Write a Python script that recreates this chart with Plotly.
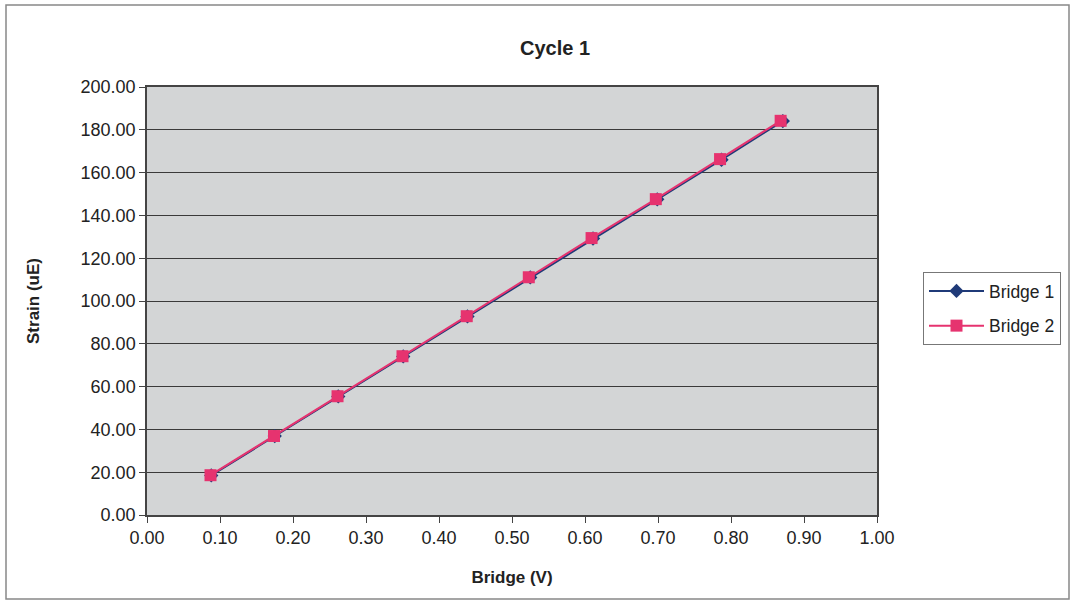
import plotly.graph_objects as go

# Data
bridge1_v = [0.088, 0.175, 0.262, 0.351, 0.439, 0.525, 0.611, 0.699, 0.787, 0.871]
bridge1_strain = [18.5, 36.9, 55.4, 74.1, 92.8, 111.0, 129.2, 147.5, 166.0, 184.1]
bridge2_v = [0.087, 0.174, 0.261, 0.350, 0.438, 0.523, 0.609, 0.697, 0.785, 0.868]
bridge2_strain = [18.6, 36.9, 55.5, 74.2, 92.9, 111.1, 129.4, 147.6, 166.3, 184.2]

x_ticks = [0.0, 0.1, 0.2, 0.3, 0.4, 0.5, 0.6, 0.7, 0.8, 0.9, 1.0]
y_ticks = [0, 20, 40, 60, 80, 100, 120, 140, 160, 180, 200]

FONT = "Liberation Sans, Arial, sans-serif"
NAVY = "#1f3a78"
PINK = "#e6336f"

fig = go.Figure()
fig.add_trace(go.Scatter(
    x=bridge1_v, y=bridge1_strain, mode="lines+markers", name="Bridge 1",
    legendgroup="b1",
    line=dict(color=NAVY, width=2),
    marker=dict(symbol="diamond", size=11, color=NAVY),
))
fig.add_trace(go.Scatter(
    x=bridge2_v, y=bridge2_strain, mode="lines+markers", name="Bridge 2",
    legendgroup="b2",
    line=dict(color=PINK, width=2),
    marker=dict(symbol="square", size=12, color=PINK),
))

L, R, T, B = 147, 196, 87, 87
W, H = 1073, 602
pw = W - L - R
ph = H - T - B

def px_x(px):
    return (px - L) / pw

def px_y(py):
    return (H - B - py) / ph

fig.update_layout(
    width=W, height=H,
    margin=dict(l=L, r=R, t=T, b=B, autoexpand=False),
    paper_bgcolor="white",
    plot_bgcolor="#d3d5d6",
    font=dict(family=FONT, size=18, color="#222222"),
    title=dict(text="<b>Cycle 1</b>", xref="paper", x=px_x(555), xanchor="center",
               yref="container", y=1 - 48 / H, yanchor="middle",
               font=dict(family=FONT, size=20, color="#222222")),
    showlegend=True,
    legend=dict(x=px_x(923), y=px_y(272), xanchor="left", yanchor="top",
                bordercolor="#777777", borderwidth=1, bgcolor="white",
                font=dict(family=FONT, size=17.5, color="#222222"),
                itemwidth=55, traceorder="grouped", tracegroupgap=9),
    xaxis=dict(
        range=[0, 1], tickvals=x_ticks, tickformat=".2f",
        showgrid=False, zeroline=False,
        showline=True, linecolor="#444444", linewidth=1.5, mirror=True,
        ticks="outside", ticklen=6, tickcolor="#444444",
        tickfont=dict(family=FONT, size=18),
        title=dict(text="<b>Bridge (V)</b>", standoff=24,
                   font=dict(family=FONT, size=17)),
    ),
    yaxis=dict(
        range=[0, 200], tickvals=y_ticks, tickformat=".2f",
        showgrid=True, gridcolor="#3a3a3a", gridwidth=1.2, zeroline=False,
        showline=True, linecolor="#444444", linewidth=1.5, mirror=True,
        ticks="outside", ticklen=6, tickcolor="#444444",
        tickfont=dict(family=FONT, size=18),
        title=dict(text="<b>Strain (uE)</b>", standoff=37,
                   font=dict(family=FONT, size=17)),
    ),
)

# Outer chart border
fig.add_shape(type="rect", xref="paper", yref="paper",
              x0=px_x(6), x1=px_x(1069), y0=px_y(599), y1=px_y(5),
              line=dict(color="#888888", width=1.5), fillcolor="rgba(0,0,0,0)",
              layer="below")

fig.write_html("out.html", config={"displayModeBar": False},
               post_script="document.body.style.margin='0';document.body.style.overflow='hidden';")
